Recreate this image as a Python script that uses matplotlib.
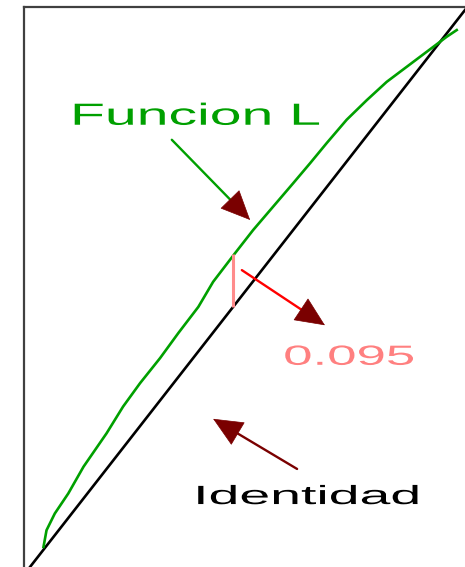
import matplotlib

matplotlib.use("Agg")
import matplotlib.pyplot as plt
from matplotlib import patheffects
from matplotlib.transforms import Affine2D

# Funcion L, identity on [0, 1]
l_x = [0.031, 0.038, 0.057, 0.088, 0.123, 0.176, 0.214, 0.253, 0.299, 0.341,
       0.387, 0.421, 0.471, 0.513, 0.559, 0.605, 0.644, 0.682, 0.728, 0.774,
       0.820, 0.866, 0.912, 0.958, 0.981]
l_y = [0.036, 0.066, 0.096, 0.132, 0.180, 0.240, 0.288, 0.330, 0.375, 0.420,
       0.467, 0.512, 0.563, 0.605, 0.647, 0.689, 0.725, 0.761, 0.803, 0.838,
       0.871, 0.898, 0.925, 0.952, 0.964]
ident_x = [-0.02, 1.02]
gap_x = 0.467
gap = 0.095

# annotation anchors: text position, arrow tail, arrow tip
lab_l = (0.092, 0.794)
arr_l = ((0.326, 0.767), (0.506, 0.623))
lab_gap = (0.582, 0.363)
arr_gap = ((0.487, 0.533), (0.678, 0.434))
lab_id = (0.375, 0.113)
arr_id = ((0.614, 0.176), (0.421, 0.266))

GREEN = "#00a000"
DARKRED = "#7a0000"


class Stretch(patheffects.AbstractPathEffect):
    """Widen glyphs horizontally about the text's left edge."""

    def __init__(self, sx):
        super().__init__()
        self.sx = sx

    def draw_path(self, renderer, gc, tpath, affine, rgbFace=None):
        x0 = affine.get_matrix()[0, 2]
        aff = affine + Affine2D().translate(-x0, 0).scale(self.sx, 1).translate(x0, 0)
        renderer.draw_path(gc, tpath, aff, rgbFace)


def arrow(ax, tail, tip, line_color):
    ax.annotate("", xy=tip, xytext=tail,
                arrowprops=dict(arrowstyle="-", color=line_color, lw=1.7,
                                shrinkA=0, shrinkB=6))
    # short segment ending at the tip, only the filled head shows
    fx = tip[0] - (tip[0] - tail[0]) * 0.15
    fy = tip[1] - (tip[1] - tail[1]) * 0.15
    ax.annotate("", xy=tip, xytext=(fx, fy),
                arrowprops=dict(arrowstyle="-|>,head_length=1.0,head_width=0.45",
                                color=DARKRED, lw=0.5, mutation_scale=20,
                                shrinkA=0, shrinkB=0))


fig = plt.figure(figsize=(4.65, 5.67), dpi=100)
ax = fig.add_axes([24 / 465, -8 / 567, 446 / 465, 568 / 567])
ax.set_xlim(-0.0138, 1.0115)
ax.set_ylim(-0.0144, 1.0054)
ax.set_xticks([])
ax.set_yticks([])
for side in ("right", "bottom"):
    ax.spines[side].set_visible(False)
for side in ("left", "top"):
    ax.spines[side].set_color("#404040")
    ax.spines[side].set_linewidth(1.6)

ax.plot(ident_x, ident_x, color="black", lw=1.9)
ax.plot(l_x, l_y, color=GREEN, lw=1.9)
ax.vlines(gap_x, gap_x, gap_x + gap, color="#ff8c8c", lw=2.2)

arrow(ax, *arr_l, GREEN)
arrow(ax, *arr_gap, "red")
arrow(ax, *arr_id, DARKRED)

ax.text(*lab_l, "Funcion L", color=GREEN, fontsize=22, family="Liberation Sans",
        ha="left", va="baseline", path_effects=[Stretch(1.87)])
ax.text(*lab_gap, "0.095", color="#ff8080", fontsize=20, family="Liberation Sans",
        ha="left", va="baseline", path_effects=[Stretch(1.9)])
ax.text(*lab_id, "Identidad", color="black", fontsize=19, family="Liberation Sans",
        ha="left", va="baseline", path_effects=[Stretch(2.1)])

fig.savefig("out.png", dpi=100)
plt.close(fig)
